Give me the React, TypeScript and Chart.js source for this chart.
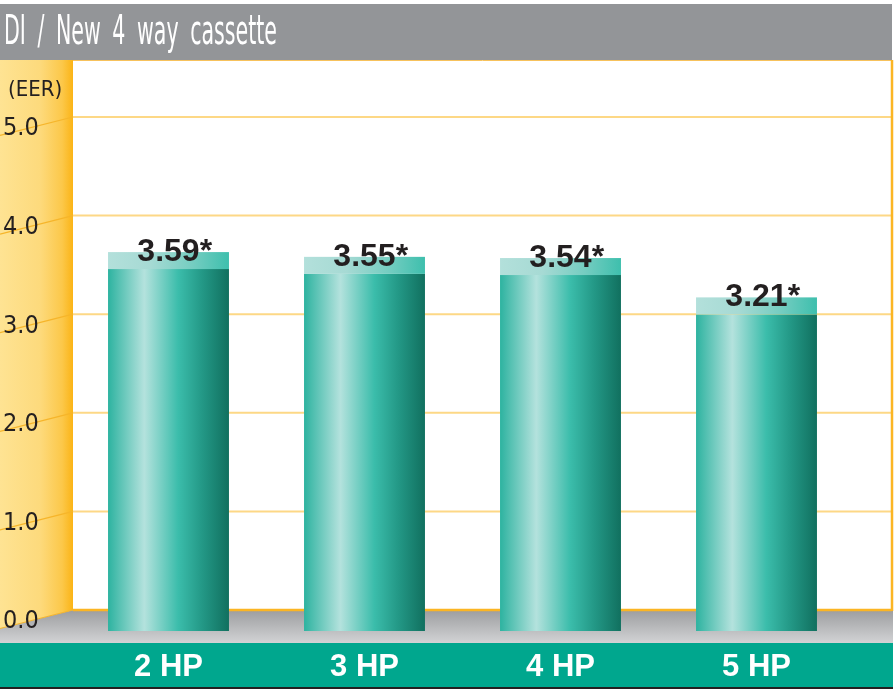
import React, { useEffect, useRef } from 'react';
import { Chart, registerables } from 'chart.js';

Chart.register(...registerables);

// ---- data ----
const chartTitle = 'DI / New 4 way cassette';
const unitLabel = '(EER)';
const categories = ['2 HP', '3 HP', '4 HP', '5 HP'];
const eerValues = [3.59, 3.55, 3.54, 3.21];
const valueSuffix = '*';
const yTickValues = [0, 1, 2, 3, 4, 5];
const yTickLabels = ['0.0', '1.0', '2.0', '3.0', '4.0', '5.0'];

// ---- styling / layout constants ----
const W = 896;
const H = 689;
const NARROW = '"Liberation Sans Narrow", "DejaVu Sans Condensed", "Roboto Condensed", "Liberation Sans", sans-serif';
const BOLD = '"Liberation Sans", Arial, "Noto Sans", sans-serif';
const WALL_X = 73;
const WALL_R = 892;
const TOP = 60;
const FLOOR_FRONT = 643;
const BAND_BOTTOM = 687;
const SKEW = 18.5;
const CAP_H = 17;
const BAR_PCT = 0.617;
const PLOT_BOTTOM = 631;

const decorPlugin = {
  id: 'decor',
  beforeDraw(chart: any) {
    const ctx: CanvasRenderingContext2D = chart.ctx;
    const ys = chart.scales.y;
    const y0 = ys.getPixelForValue(0);
    ctx.save();
    ctx.fillStyle = '#ffffff';
    ctx.fillRect(0, 0, W, H);

    // title bar
    ctx.fillStyle = '#939598';
    ctx.fillRect(0, 4, WALL_R, TOP - 4);

    // left wall
    const wg = ctx.createLinearGradient(0, 0, WALL_X, 0);
    wg.addColorStop(0, '#fee393');
    wg.addColorStop(0.55, '#fdda7c');
    wg.addColorStop(0.85, '#fcc84a');
    wg.addColorStop(1, '#fbb416');
    ctx.fillStyle = wg;
    ctx.beginPath();
    ctx.moveTo(0, TOP);
    ctx.lineTo(WALL_X, TOP);
    ctx.lineTo(WALL_X, y0);
    ctx.lineTo(0, y0 + SKEW);
    ctx.closePath();
    ctx.fill();

    // floor
    const fg = ctx.createLinearGradient(0, y0, 0, FLOOR_FRONT);
    fg.addColorStop(0, '#9c9d9f');
    fg.addColorStop(1, '#d2d3d5');
    ctx.fillStyle = fg;
    ctx.beginPath();
    ctx.moveTo(0, y0 + SKEW);
    ctx.lineTo(WALL_X, y0);
    ctx.lineTo(WALL_R + 1, y0);
    ctx.lineTo(WALL_R + 1, FLOOR_FRONT);
    ctx.lineTo(0, FLOOR_FRONT);
    ctx.closePath();
    ctx.fill();

    // bottom band
    ctx.fillStyle = '#00a78e';
    ctx.fillRect(0, FLOOR_FRONT, WALL_R + 1, BAND_BOTTOM - FLOOR_FRONT);
    ctx.fillStyle = '#231f20';
    ctx.fillRect(0, BAND_BOTTOM, WALL_R + 1, H - BAND_BOTTOM);

    // grid lines on back wall + diagonals on left wall
    yTickValues.forEach((v) => {
      const py = ys.getPixelForValue(v);
      if (v > 0) {
        ctx.strokeStyle = '#fdd886';
        ctx.lineWidth = 2;
        ctx.beginPath();
        ctx.moveTo(WALL_X, py);
        ctx.lineTo(WALL_R, py);
        ctx.stroke();
      }
      ctx.strokeStyle = '#f6b52a';
      ctx.lineWidth = 1.2;
      ctx.beginPath();
      ctx.moveTo(0, py + SKEW);
      ctx.lineTo(WALL_X, py);
      ctx.stroke();
    });

    // borders of back wall
    ctx.strokeStyle = '#f7c25c';
    ctx.lineWidth = 1;
    ctx.beginPath();
    ctx.moveTo(WALL_X, TOP + 0.5);
    ctx.lineTo(WALL_R, TOP + 0.5);
    ctx.stroke();
    ctx.strokeStyle = '#fbb523';
    ctx.lineWidth = 2.5;
    ctx.beginPath();
    ctx.moveTo(WALL_X, y0);
    ctx.lineTo(WALL_R, y0);
    ctx.moveTo(WALL_R, TOP);
    ctx.lineTo(WALL_R, y0 + 1);
    ctx.stroke();

    // title
    ctx.fillStyle = '#ffffff';
    ctx.font = `41px ${NARROW}`;
    ctx.textAlign = 'left';
    ctx.textBaseline = 'alphabetic';
    const spaces = (chartTitle.match(/ /g) || []).length;
    const w0 = ctx.measureText(chartTitle).width;
    const extra = 5;
    const s = (273 - spaces * extra) / w0;
    ctx.save();
    ctx.translate(4, 44);
    ctx.scale(s, 1);
    (ctx as any).wordSpacing = `${extra / s}px`;
    ctx.fillText(chartTitle, 0, 0);
    ctx.restore();

    // unit label
    ctx.fillStyle = '#231f20';
    ctx.font = `22px ${NARROW}`;
    ctx.fillText(unitLabel, 8, 96);
    ctx.restore();
  },
  afterDatasetsDraw(chart: any) {
    const ctx: CanvasRenderingContext2D = chart.ctx;
    const meta = chart.getDatasetMeta(0);
    ctx.save();
    meta.data.forEach((el: any, i: number) => {
      const { x, y, width } = el.getProps(['x', 'y', 'width'], true);
      const left = x - width / 2;
      const cg = ctx.createLinearGradient(left, 0, left + width, 0);
      cg.addColorStop(0, '#b3e0db');
      cg.addColorStop(0.35, '#a6dad4');
      cg.addColorStop(0.7, '#75cdc1');
      cg.addColorStop(1, '#3ebfad');
      ctx.fillStyle = cg;
      ctx.fillRect(left, y - CAP_H, width, CAP_H);

      ctx.font = `bold 32px ${BOLD}`;
      ctx.fillStyle = '#231f20';
      ctx.textAlign = 'center';
      ctx.textBaseline = 'alphabetic';
      const txt = eerValues[i].toFixed(2) + valueSuffix;
      const off = ctx.measureText(valueSuffix).width / 2;
      ctx.fillText(txt, x + off, y - 8);
    });
    ctx.restore();
  },
};

export default function App() {
  const ref = useRef<HTMLCanvasElement | null>(null);

  useEffect(() => {
    if (!ref.current) return;
    const chart = new Chart(ref.current, {
      type: 'bar',
      data: {
        labels: categories,
        datasets: [
          {
            data: eerValues,
            yAxisID: 'yBar',
            xAxisID: 'x',
            borderWidth: 0,
            barPercentage: BAR_PCT,
            categoryPercentage: 1,
            backgroundColor: (c: any) => {
              const ch = c.chart;
              const xs = ch.scales && ch.scales.x;
              if (!ch.chartArea || !xs || c.dataIndex === undefined) return '#2fb3a0';
              const cx = xs.getPixelForValue(c.dataIndex);
              const half = ((xs.width / categories.length) * BAR_PCT) / 2;
              const g = ch.ctx.createLinearGradient(cx - half, 0, cx + half, 0);
              g.addColorStop(0, '#2db3a0');
              g.addColorStop(0.3, '#b4e2dd');
              g.addColorStop(0.58, '#3bbdab');
              g.addColorStop(0.78, '#239886');
              g.addColorStop(1, '#11705f');
              return g;
            },
          },
        ],
      },
      options: {
        responsive: false,
        animation: false,
        devicePixelRatio: 1,
        layout: { padding: { left: 3, right: 41.5, top: TOP, bottom: 0 } },
        plugins: {
          legend: { display: false },
          tooltip: { enabled: false },
        },
        scales: {
          x: {
            type: 'category',
            offset: true,
            grid: { display: false, drawTicks: false },
            border: { display: false },
            ticks: {
              color: '#ffffff',
              font: { family: BOLD, size: 31, weight: 'bold' },
              padding: 18,
              maxRotation: 0,
              autoSkip: false,
            },
            afterFit: (s: any) => {
              s.height = H - PLOT_BOTTOM;
            },
          },
          y: {
            type: 'linear',
            position: 'left',
            min: -0.213,
            max: 5.578,
            grid: { display: false, drawTicks: false },
            border: { display: false },
            ticks: {
              stepSize: 1,
              includeBounds: false,
              color: '#231f20',
              font: { family: NARROW, size: 25 },
              crossAlign: 'far',
              labelOffset: 12,
              padding: 0,
              callback: (v: any) => {
                const i = yTickValues.indexOf(Number(v));
                return i >= 0 ? yTickLabels[i] : '';
              },
            },
            afterFit: (s: any) => {
              s.width = 67.5;
            },
          },
          yBar: {
            type: 'linear',
            display: false,
            min: 0.554,
            max: 5.344,
          },
        },
      },
      plugins: [decorPlugin],
    } as any);
    return () => chart.destroy();
  }, []);

  return (
    <div style={{ position: 'fixed', left: 0, top: 0, width: W, height: H }}>
      <canvas ref={ref} width={W} height={H} style={{ display: 'block' }} />
    </div>
  );
}
